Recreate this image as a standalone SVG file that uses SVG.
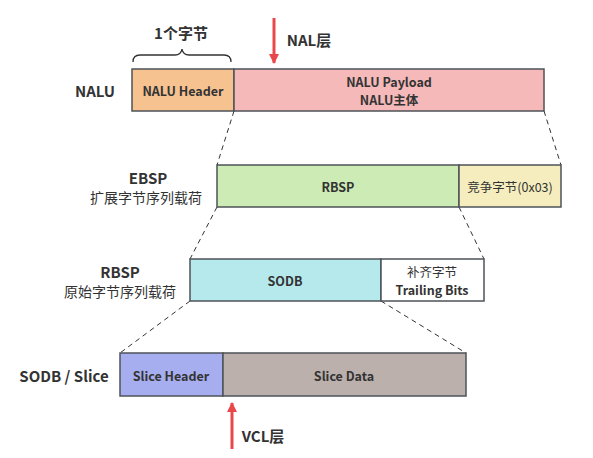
<svg xmlns="http://www.w3.org/2000/svg" width="593" height="458" viewBox="0 0 593 458">
<style>
text{font-family:"Noto Sans CJK SC","Noto Sans",sans-serif;fill:#333;text-anchor:middle;dominant-baseline:central}
.b{stroke:#4d5358;stroke-width:1.5}
.t{font-size:12.5px;font-weight:bold}
.l{font-size:15px;font-weight:bold}
.s{font-size:14px;font-weight:normal}
.d{stroke:#333;stroke-width:1;stroke-dasharray:5 4;fill:none}
</style>
<defs>
<marker id="ah" viewBox="0 0 10 10" refX="9" refY="5" markerWidth="10" markerHeight="10" markerUnits="userSpaceOnUse" orient="auto">
<path d="M0,0 L10,5 L0,10 z" fill="#e8484a"/>
</marker>
</defs>
<rect width="593" height="458" fill="#fff"/>
<g id="connectors">
<line class="d" x1="234" y1="111" x2="217" y2="165"/>
<line class="d" x1="544" y1="111" x2="561" y2="165"/>
<line class="d" x1="217" y1="207" x2="190" y2="259"/>
<line class="d" x1="459" y1="207" x2="484" y2="259"/>
<line class="d" x1="190" y1="301" x2="120" y2="353"/>
<line class="d" x1="381" y1="301" x2="466" y2="353"/>
<path d="M133,62 Q133,55 140,55 L175,55 Q181,55 182,49 Q183,55 189,55 L224,55 Q231,55 231,62" fill="none" stroke="#333" stroke-width="1.3"/>
<line x1="274" y1="18" x2="274" y2="63" stroke="#e8484a" stroke-width="3" marker-end="url(#ah)"/>
<line x1="232" y1="449" x2="232" y2="403" stroke="#e8484a" stroke-width="3" marker-end="url(#ah)"/>
</g>
<g id="labels">
<text class="l" x="181" y="32">1个字节</text>
<text class="l" x="309" y="39">NAL层</text>
<text class="l" x="263" y="435">VCL层</text>
<text class="l" x="95" y="90">NALU</text>
<text class="l" x="148" y="177">EBSP</text>
<text class="s" x="146" y="197">扩展字节序列载荷</text>
<text class="l" x="120" y="271">RBSP</text>
<text class="s" x="120" y="291">原始字节序列载荷</text>
<text class="l" x="64" y="375">SODB / Slice</text>
</g>
<g id="nalu-header"><rect class="b" x="132" y="69" width="102" height="42" fill="#f5c290"/><text class="t" x="183" y="90">NALU Header</text></g>
<g id="nalu-payload"><rect class="b" x="234" y="69" width="310" height="42" fill="#f5b9b9"/><text class="t" x="389" y="81">NALU Payload</text><text class="t" x="389" y="99">NALU主体</text></g>
<g id="rbsp-green"><rect class="b" x="217" y="165" width="242" height="42" fill="#cdebb5"/><text class="t" x="338" y="186">RBSP</text></g>
<g id="emulation"><rect class="b" x="459" y="165" width="102" height="42" fill="#f5edbd"/><text class="t" x="510" y="186" style="font-weight:normal">竞争字节(0x03)</text></g>
<g id="sodb"><rect class="b" x="190" y="259" width="191" height="42" fill="#b5e9eb"/><text class="t" x="285" y="280">SODB</text></g>
<g id="trailing"><rect class="b" x="381" y="259" width="103" height="42" fill="#ffffff"/><text class="t" x="432" y="271" style="font-weight:normal">补齐字节</text><text class="t" x="432" y="289">Trailing Bits</text></g>
<g id="slice-header"><rect class="b" x="120" y="353" width="103" height="43" fill="#a6aef0"/><text class="t" x="171" y="375">Slice Header</text></g>
<g id="slice-data"><rect class="b" x="223" y="353" width="243" height="43" fill="#bbb0ac"/><text class="t" x="344" y="375">Slice Data</text></g>
</svg>
